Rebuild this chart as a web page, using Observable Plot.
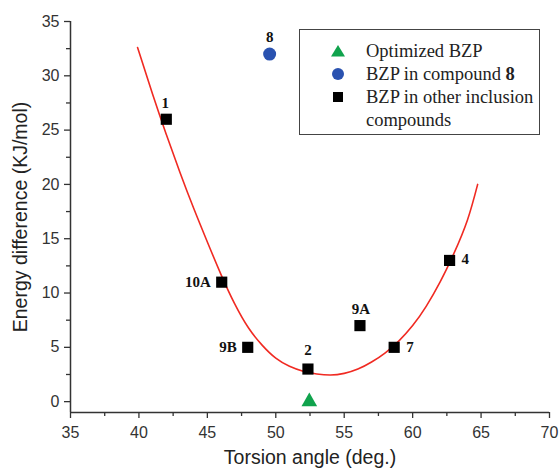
<!DOCTYPE html>
<html>
<head>
<meta charset="utf-8">
<script src="https://cdn.jsdelivr.net/npm/d3@7"></script>
<script src="https://cdn.jsdelivr.net/npm/@observablehq/plot@0.6"></script>
<style>
  html, body { margin: 0; padding: 0; background: #fff; }
  #wrap { position: relative; width: 559px; height: 469px; }
  #legend {
    position: absolute; left: 299px; top: 29px; width: 241px; height: 106px;
    border: 1.5px solid #444; box-sizing: border-box; background: #fff;
    font-family: "Liberation Serif", "Times New Roman", serif; font-size: 18.5px; color: #222;
  }
  .row { position: absolute; left: 0; }
  .row svg { position: absolute; left: 30px; top: 0; }
  .row span { position: absolute; left: 66px; top: 0; white-space: nowrap; line-height: 22px; }
</style>
</head>
<body>
<div id="wrap"></div>
<script>
// ---- data ----
const optimized = [{x: 52.45, y: 0}];
const compound8 = [{x: 49.55, y: 32}];
const otherNames = ["1", "10A", "9B", "2", "9A", "7", "4"];
const otherX = [42.0, 46.05, 47.95, 52.35, 56.15, 58.65, 62.7];
const otherY = [26, 11, 5, 3, 7, 5, 13];
// fitted curve
const curveX = [39.9, 41, 42, 43, 44, 45, 46, 47, 48, 49, 50, 51, 52, 53, 54, 55, 56, 57, 58, 59, 60, 61, 62, 63, 64, 64.75];
const curveY = [32.6, 28.3, 24.6, 21.1, 17.8, 14.7, 11.7, 9.0, 6.8, 5.2, 4.0, 3.25, 2.8, 2.55, 2.45, 2.6, 3.0, 3.65, 4.5, 5.6, 7.0, 8.8, 11.0, 13.6, 16.7, 20.0];
const xTicks = [35, 40, 45, 50, 55, 60, 65, 70];
const xMinor = [37.5, 42.5, 47.5, 52.5, 57.5, 62.5, 67.5];
const yTicks = [0, 5, 10, 15, 20, 25, 30, 35];
const yMinor = [2.5, 7.5, 12.5, 17.5, 22.5, 27.5, 32.5];

const others = otherNames.map((n, i) => ({name: n, x: otherX[i], y: otherY[i]}));
const curve = curveX.map((x, i) => ({x, y: curveY[i]}));

const labelPos = {
  "1":   {dx: -1, dy: -16, anchor: "middle"},
  "10A": {dx: -11, dy: 0, anchor: "end"},
  "9B":  {dx: -11, dy: 0, anchor: "end"},
  "2":   {dx: 0, dy: -19, anchor: "middle"},
  "9A":  {dx: 1, dy: -16, anchor: "middle"},
  "7":   {dx: 12, dy: 0, anchor: "start"},
  "4":   {dx: 12, dy: -1, anchor: "start"}
};

const axisColor = "#333";
const labelFont = "Liberation Serif, Times New Roman, serif";

const chart = Plot.plot({
  width: 559,
  height: 469,
  marginLeft: 70,
  marginRight: 10,
  marginTop: 21,
  marginBottom: 57,
  style: {fontFamily: "Liberation Sans, Arial, sans-serif", fontSize: "16px", color: "#333", background: "#fff"},
  x: {domain: [35, 70]},
  y: {domain: [-1, 35]},
  marks: [
    Plot.ruleY([-1], {stroke: axisColor, strokeWidth: 1.5}),
    Plot.ruleX([35], {y1: -1, y2: 35, stroke: axisColor, strokeWidth: 1.5}),
    Plot.axisX({ticks: xTicks, tickSize: 6, tickPadding: 8, stroke: axisColor, strokeWidth: 1.3, fontSize: 16, label: null}),
    Plot.axisX({ticks: xMinor, tickSize: 4, text: null, stroke: axisColor, strokeWidth: 1.3, label: null}),
    Plot.axisY({ticks: yTicks, tickSize: 6, tickPadding: 5, stroke: axisColor, strokeWidth: 1.3, fontSize: 16, label: null}),
    Plot.axisY({ticks: yMinor, tickSize: 4, text: null, stroke: axisColor, strokeWidth: 1.3, label: null}),
    Plot.text(["Torsion angle (deg.)"], {frameAnchor: "bottom", dy: 45, textAnchor: "middle", lineAnchor: "middle", fontSize: 19.5, fill: "#222"}),
    Plot.text(["Energy difference (KJ/mol)"], {frameAnchor: "left", dx: -50, rotate: -90, textAnchor: "middle", lineAnchor: "middle", fontSize: 19.5, fill: "#222"}),
    Plot.line(curve, {x: "x", y: "y", curve: "natural", stroke: "#f02a22", strokeWidth: 1.6}),
    Plot.dot(others, {x: "x", y: "y", symbol: "square", r: 6.3, fill: "#000", stroke: "none"}),
    Plot.dot(compound8, {x: "x", y: "y", symbol: "circle", r: 6.5, fill: "#2a52b0", stroke: "none"}),
    Plot.dot(optimized, {x: "x", y: "y", symbol: "triangle", r: 5.8, fill: "#10a34d", stroke: "none"}),
    ...otherNames.map(n => Plot.text(others.filter(d => d.name === n), {
      x: "x", y: "y", text: "name", dx: labelPos[n].dx, dy: labelPos[n].dy, textAnchor: labelPos[n].anchor,
      fontFamily: labelFont, fontWeight: "bold", fontSize: 15, fill: "#111"
    })),
    Plot.text(compound8, {x: "x", y: "y", text: () => "8", dy: -17, fontFamily: labelFont, fontWeight: "bold", fontSize: 15, fill: "#111"})
  ]
});

const wrap = document.getElementById("wrap");
wrap.appendChild(chart);

// legend
const legendItems = [
  {label: "Optimized BZP", sym: "tri", color: "#10a34d"},
  {label: "BZP in compound <b>8</b>", sym: "circ", color: "#2a52b0"},
  {label: "BZP in other inclusion", sym: "sq", color: "#000"},
  {label: "compounds", sym: null}
];
const legend = document.createElement("div");
legend.id = "legend";
legendItems.forEach((it, i) => {
  const row = document.createElement("div");
  row.className = "row";
  row.style.top = (10 + i * 23) + "px";
  let svg = "";
  if (it.sym === "tri") svg = `<svg width="16" height="22" viewBox="-8 -11 16 22"><path d="M0,-6L7,5.5L-7,5.5Z" fill="${it.color}"/></svg>`;
  if (it.sym === "circ") svg = `<svg width="16" height="22" viewBox="-8 -11 16 22"><circle r="6" fill="${it.color}"/></svg>`;
  if (it.sym === "sq") svg = `<svg width="16" height="22" viewBox="-8 -11 16 22"><rect x="-5" y="-5" width="10" height="10" fill="${it.color}"/></svg>`;
  row.innerHTML = svg + `<span>${it.label}</span>`;
  legend.appendChild(row);
});
wrap.appendChild(legend);
</script>
</body>
</html>
